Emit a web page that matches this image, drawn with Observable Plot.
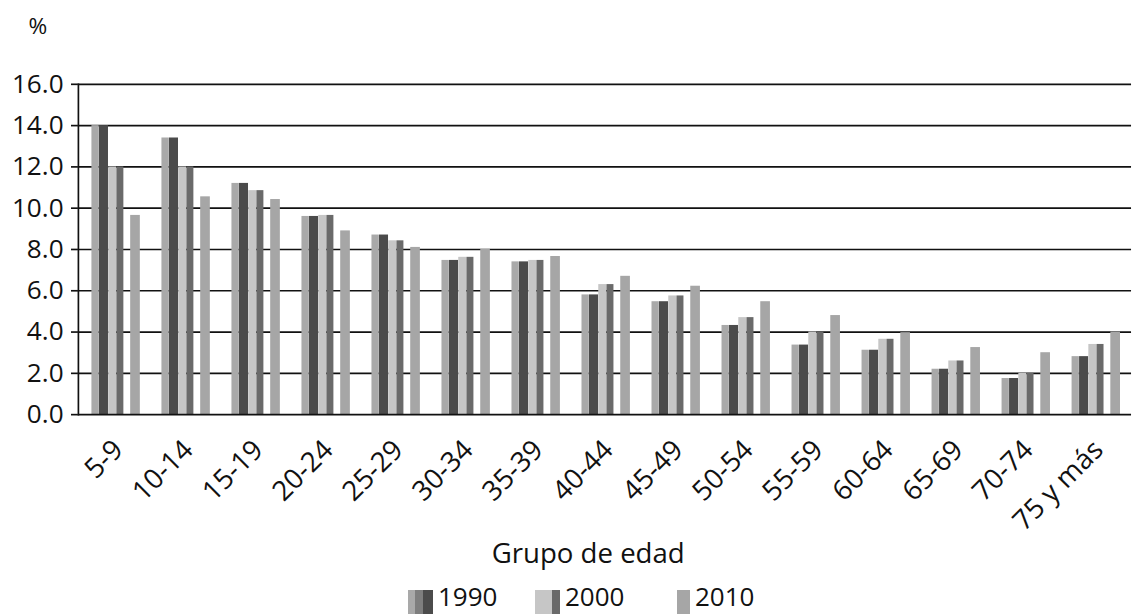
<!DOCTYPE html>
<html>
<head>
<meta charset="utf-8">
<script src="https://cdn.jsdelivr.net/npm/d3@7"></script>
<script src="https://cdn.jsdelivr.net/npm/@observablehq/plot@0.6"></script>
<style>
  html, body { margin: 0; padding: 0; background: #fff; }
  #wrap { width: 1134px; height: 615px; overflow: hidden; position: relative; font-family: "Open Sans", sans-serif; }
  #chart { height: 590px; }
  #legend { position: absolute; left: 0; top: 590px; width: 1134px; height: 25px; color: #111; }
  #legend .sw { position: absolute; top: 0px; height: 24px; }
  #legend .lb { position: absolute; top: -7px; font-size: 26px; line-height: 26px; }
</style>
</head>
<body>
<div id="wrap"><div id="chart"></div><div id="legend"></div></div>
<script>
const groups = ["5-9","10-14","15-19","20-24","25-29","30-34","35-39","40-44","45-49","50-54","55-59","60-64","65-69","70-74","75 y más"];
const v1990 = [14.0, 13.4, 11.2, 9.6, 8.7, 7.47, 7.4, 5.8, 5.47, 4.32, 3.37, 3.12, 2.2, 1.75, 2.81];
const v2000 = [12.0, 12.0, 10.85, 9.65, 8.42, 7.62, 7.47, 6.3, 5.75, 4.7, 4.0, 3.65, 2.6, 2.0, 3.4];
const v2010 = [9.65, 10.55, 10.42, 8.9, 8.1, 8.0, 7.66, 6.7, 6.22, 5.47, 4.8, 3.97, 3.25, 3.0, 4.0];
const years = ["1990", "2000", "2010"];
const yTicks = [0, 2, 4, 6, 8, 10, 12, 14, 16];

const data = groups.map((g, i) => ({group: g, v1990: v1990[i], v2000: v2000[i], v2010: v2010[i]}));

const step = 71.2;
const bar = (key, fill, a, b) => Plot.barY(data, {x: "group", y: key, fill, insetLeft: a, insetRight: step - b});

const chart = Plot.plot({
  width: 1150,
  height: 590,
  marginLeft: 79,
  marginRight: 3,
  marginTop: 85,
  marginBottom: 170,
  style: {fontFamily: "Open Sans, sans-serif", color: "#111", background: "#fff"},
  x: {type: "band", domain: groups, padding: 0},
  y: {domain: [0, 16]},
  marks: [
    Plot.ruleY(yTicks.slice(1), {stroke: "#111", strokeWidth: 1.7}),
    bar("v1990", "#a9a9a9", 11.7, 19.3),
    bar("v1990", "#4b4b4b", 19.3, 28.7),
    bar("v2000", "#c6c6c6", 28.7, 37),
    bar("v2000", "#6a6a6a", 37, 44.3),
    bar("v2010", "#a6a6a6", 51, 61),
    Plot.ruleY([0], {stroke: "#111", strokeWidth: 1.7}),
    Plot.frame({anchor: "left", stroke: "#111", strokeWidth: 1.7}),
    Plot.axisY({ticks: yTicks, tickFormat: d => d.toFixed(1), tickSize: 7, tickPadding: 8, fontSize: 26.5, label: null, stroke: "#111", strokeWidth: 1.7}),
    Plot.axisX({tickRotate: -45, tickSize: 0, tickPadding: 31, dx: 3, fontSize: 28, label: null}),
    Plot.text(["%"], {frameAnchor: "top-left", textAnchor: "middle", lineAnchor: "middle", dx: -41, dy: -58, fontSize: 23, text: d => d, fill: "#111"}),
    Plot.text(["Grupo de edad"], {frameAnchor: "bottom", textAnchor: "middle", lineAnchor: "middle", dx: -17, dy: 141, fontSize: 28, text: d => d, fill: "#111"})
  ]
});
document.getElementById("chart").appendChild(chart);

// legend
const legend = document.getElementById("legend");
const items = [
  {year: years[0], x: 408, parts: [["#a9a9a9", 7], ["#7e7e7e", 8], ["#4b4b4b", 10]], tx: 438},
  {year: years[1], x: 535, parts: [["#c6c6c6", 17], ["#6a6a6a", 8]], tx: 565},
  {year: years[2], x: 677, parts: [["#a6a6a6", 13]], tx: 695}
];
items.forEach(it => {
  let x = it.x;
  it.parts.forEach(([c, w]) => {
    const s = document.createElement("div");
    s.className = "sw";
    s.style.left = x + "px";
    s.style.width = w + "px";
    s.style.background = c;
    legend.appendChild(s);
    x += w;
  });
  const t = document.createElement("div");
  t.className = "lb";
  t.style.left = it.tx + "px";
  t.textContent = it.year;
  legend.appendChild(t);
});
</script>
</body>
</html>
